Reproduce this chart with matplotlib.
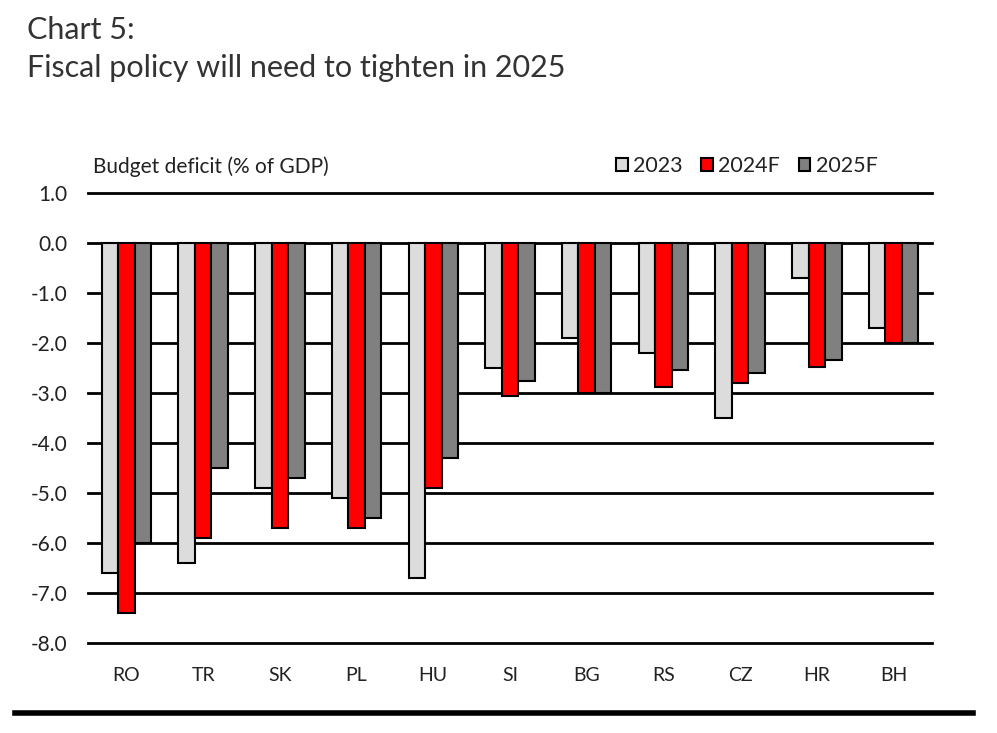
import matplotlib
matplotlib.use("Agg")
import matplotlib.pyplot as plt
import numpy as np
from matplotlib.patches import Patch
from matplotlib.lines import Line2D

categories = ["RO", "TR", "SK", "PL", "HU", "SI", "BG", "RS", "CZ", "HR", "BH"]
s2023 = [-6.6, -6.4, -4.9, -5.1, -6.7, -2.5, -1.9, -2.2, -3.5, -0.7, -1.7]
s2024 = [-7.4, -5.9, -5.7, -5.7, -4.9, -3.05, -3.0, -2.87, -2.8, -2.47, -2.0]
s2025 = [-6.0, -4.5, -4.7, -5.5, -4.3, -2.76, -3.0, -2.54, -2.6, -2.33, -2.0]
series_names = ["2023", "2024F", "2025F"]
yticks = [1.0, 0.0, -1.0, -2.0, -3.0, -4.0, -5.0, -6.0, -7.0, -8.0]

colors = ["#dcdcdc", "#ff0000", "#808080"]
txt = "#222222"
plt.rcParams['font.family'] = ['Lato', 'DejaVu Sans']

fig = plt.figure(figsize=(9.97, 7.33), dpi=100)
ax = fig.add_axes([88/997, 1-643/733, (932-88)/997, (643-193)/733])
ax.set_xlim(-0.5, len(categories)-0.5)
ax.set_ylim(-8, 1)

for t in yticks:
    ax.axhline(t, color="black", lw=2.0, zorder=1, clip_on=False)

x = np.arange(len(categories))
w = 0.215
for i, (vals, c) in enumerate(zip([s2023, s2024, s2025], colors)):
    ax.bar(x + (i-1)*w, vals, width=w, color=c, edgecolor="black", linewidth=1.5, zorder=3)

for s in ax.spines.values():
    s.set_visible(False)
ax.set_yticks(yticks)
ax.set_yticklabels([f"{v:.1f}" for v in yticks], fontsize=15, color=txt)
ax.set_xticks(x)
ax.set_xticklabels(categories, fontsize=14, color=txt)
ax.tick_params(axis='both', length=0)
ax.tick_params(axis='y', pad=14.5)
ax.tick_params(axis='x', pad=17)

fig.text(93/997, 1-167/733, "Budget deficit (% of GDP)", fontsize=15, color=txt, va="center", ha="left")

handles = [Patch(facecolor=c, edgecolor="black", linewidth=1.5) for c in colors]
fig.legend(handles, series_names, ncol=3, frameon=False, fontsize=15.5,
           loc="center left", bbox_to_anchor=(616/997, 1-166/733),
           handlelength=0.55, handleheight=0.55, handletextpad=0.25, columnspacing=0.85,
           labelcolor=txt, borderaxespad=0, borderpad=0)

fig.text(27/997, 1-30/733, "Chart 5:", fontsize=22, color="#333333", va="center", ha="left")
fig.text(27/997, 1-68/733, "Fiscal policy will need to tighten in 2025", fontsize=22, color="#333333",
         va="center", ha="left")

fig.add_artist(Line2D([15/997, 973/997], [1-713/733, 1-713/733], color="black", lw=4, transform=fig.transFigure))

fig.savefig("out.png", dpi=100)
